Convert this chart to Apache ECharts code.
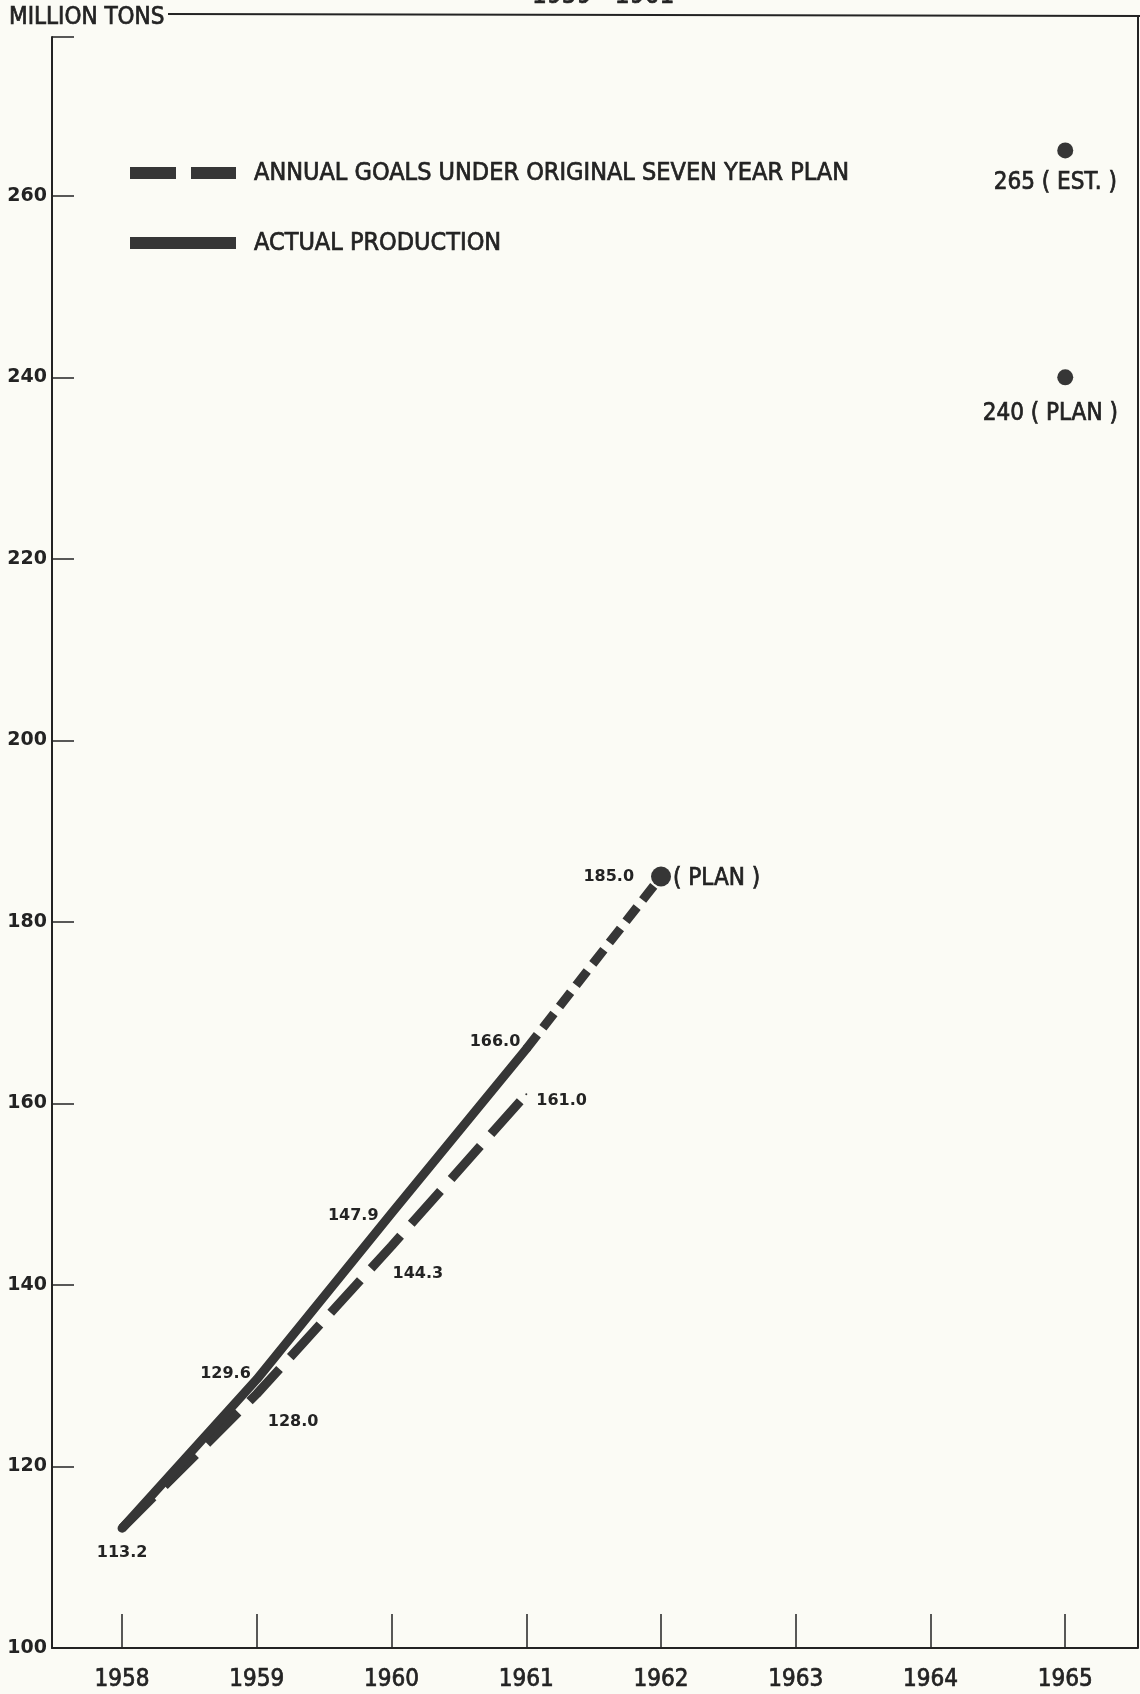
<!DOCTYPE html>
<html><head><meta charset="utf-8">
<script src="https://cdn.jsdelivr.net/npm/echarts@6/dist/echarts.min.js"></script>
<style>html,body{margin:0;padding:0;background:#fbfbf5}#c{width:1140px;height:1694px}</style>
</head><body><div id="c"></div>
<script>
// ---- data ----
const years = [1958, 1959, 1960, 1961, 1962, 1963, 1964, 1965];
const yTicks = [100, 120, 140, 160, 180, 200, 220, 240, 260];
const actualYears = [1958, 1959, 1960, 1961];
const actualProduction = [113.2, 129.6, 147.9, 166.0];
const goalYears = [1958, 1959, 1960, 1961];
const originalGoals = [113.2, 128.0, 144.3, 161.0];
const planYears = [1961, 1962];
const planValues = [166.0, 185.0];
const pointYears = [1962, 1965, 1965];
const pointValues = [185.0, 265, 240];
const pointNotes = ['( PLAN )', '265 ( EST. )', '240 ( PLAN )'];
const GOAL_NAME = 'ANNUAL GOALS UNDER ORIGINAL SEVEN YEAR PLAN';
const ACTUAL_NAME = 'ACTUAL PRODUCTION';
const yUnit = 'MILLION TONS';
const periodTitle = '1959 - 1961';

// ---- styles ----
const INK = '#232323';
const LINE = '#363636';
const COND = '"Liberation Sans Narrow","DejaVu Sans Condensed","Roboto Condensed",sans-serif';
const HEAVY = {textBorderColor: INK, textBorderWidth: 0.7};
const NUM = {fontFamily: '"DejaVu Sans",sans-serif', fontWeight: 'bold', fontSize: 16, color: INK};
const actualPlace = [
  {position: 'bottom', distance: 16},
  {position: 'left', distance: 5, offset: [0, -6]},
  {position: 'left', distance: 12, offset: [0, 3]},
  {position: 'left', distance: 5, offset: [0, -7]}
];
const goalPlace = [
  null,
  {position: 'right', distance: 10, offset: [0, 28]},
  {position: 'right', distance: 0, offset: [0, 28]},
  {position: 'right', distance: 9, offset: [0, 6]}
];
const planPlace = [null, {position: 'left', distance: 26, offset: [0, 0]}];
const pointSizes = [20, 16, 16];
const pointPlace = [
  {position: 'right', distance: 2, offset: [0, 2], fontSize: 24},
  {position: 'bottom', distance: 12, offset: [-10, 0], fontSize: 24},
  {position: 'bottom', distance: 16, offset: [-15, 0], fontSize: 24}
];

function lineData(xs, ys, places) {
  return xs.map((x, i) => {
    const p = places[i];
    return {
      value: [x, ys[i]],
      label: p ? Object.assign({show: true, formatter: q => q.value[1].toFixed(1)}, NUM, p) : {show: false}
    };
  });
}

const chart = echarts.init(document.getElementById('c'), null, {renderer: 'canvas'});
chart.setOption({
  backgroundColor: '#fbfbf5',
  animation: false,
  title: [
    {text: yUnit, left: 9, top: 6, padding: 0,
     textStyle: Object.assign({fontFamily: COND, fontSize: 24, fontWeight: 'normal', color: INK}, HEAVY)},
    {text: periodTitle, left: 532, top: -17, padding: 0,
     textStyle: Object.assign({fontFamily: COND, fontSize: 26, fontWeight: 'normal', color: INK}, HEAVY)}
  ],
  grid: {left: 52, right: 2, top: 37, bottom: 46, containLabel: false},
  legend: {
    orient: 'vertical', left: 130, top: 158, padding: 0,
    itemWidth: 106, itemHeight: 12, itemGap: 40,
    itemStyle: {borderWidth: 0},
    data: [
      {name: GOAL_NAME, icon: 'path://M0,0H46V12H0Z M61,0H106V12H61Z'},
      {name: ACTUAL_NAME, icon: 'path://M0,0H106V12H0Z'}
    ],
    textStyle: Object.assign({fontFamily: COND, fontSize: 25, color: INK, lineHeight: 30, padding: [0, 0, 0, 13]}, HEAVY)
  },
  xAxis: {
    type: 'value', min: 1957.48, max: 1965.54,
    axisLine: {lineStyle: {color: INK, width: 2}},
    axisTick: {show: true, inside: true, length: 34, customValues: years, lineStyle: {color: INK, width: 1.5}},
    axisLabel: Object.assign({customValues: years, formatter: v => String(v), fontFamily: COND, fontSize: 24,
      color: INK, margin: 20}, HEAVY),
    splitLine: {show: false}
  },
  yAxis: {
    type: 'value', min: 100, max: 277.5, interval: 20,
    axisLine: {show: true, lineStyle: {color: INK, width: 2}},
    axisTick: {show: true, inside: true, length: 22, lineStyle: {color: INK, width: 1.5}},
    axisLabel: {formatter: v => yTicks.includes(v) ? String(v) : '', fontFamily: '"DejaVu Sans",sans-serif',
      fontWeight: 'bold', fontSize: 19, color: INK, margin: 5},
    splitLine: {show: false}
  },
  series: [
    {name: GOAL_NAME, type: 'line', color: LINE, z: 3,
     symbol: 'circle', symbolSize: 2, showSymbol: true, showAllSymbol: true,
     lineStyle: {width: 9, type: [44, 16], cap: 'butt', color: LINE},
     data: lineData(goalYears, originalGoals, goalPlace)},
    {name: ACTUAL_NAME, type: 'line', color: LINE, z: 4,
     symbol: 'circle', symbolSize: 2, showSymbol: true, showAllSymbol: true,
     lineStyle: {width: 9, type: 'solid', cap: 'round', join: 'round', color: LINE},
     data: lineData(actualYears, actualProduction, actualPlace)},
    {name: 'plan', type: 'line', color: LINE, z: 3,
     symbol: 'circle', symbolSize: 2, showSymbol: true, showAllSymbol: true,
     lineStyle: {width: 9, type: [18, 9], cap: 'butt', color: LINE},
     data: lineData(planYears, planValues, planPlace)},
    {name: 'points', type: 'scatter', color: LINE, z: 5,
     itemStyle: {opacity: 1, color: LINE},
     data: pointYears.map((x, i) => ({
       value: [x, pointValues[i]],
       symbolSize: pointSizes[i],
       label: Object.assign({show: true, formatter: pointNotes[i], fontFamily: COND, color: INK, opacity: 1}, HEAVY, pointPlace[i])
     }))}
  ],
  graphic: [
    {type: 'line', silent: true, shape: {x1: 168, y1: 14, x2: 1140, y2: 16}, style: {stroke: INK, lineWidth: 2}},
    {type: 'line', silent: true, shape: {x1: 1138, y1: 15, x2: 1138, y2: 1648}, style: {stroke: INK, lineWidth: 2}}
  ]
});
</script></body></html>
